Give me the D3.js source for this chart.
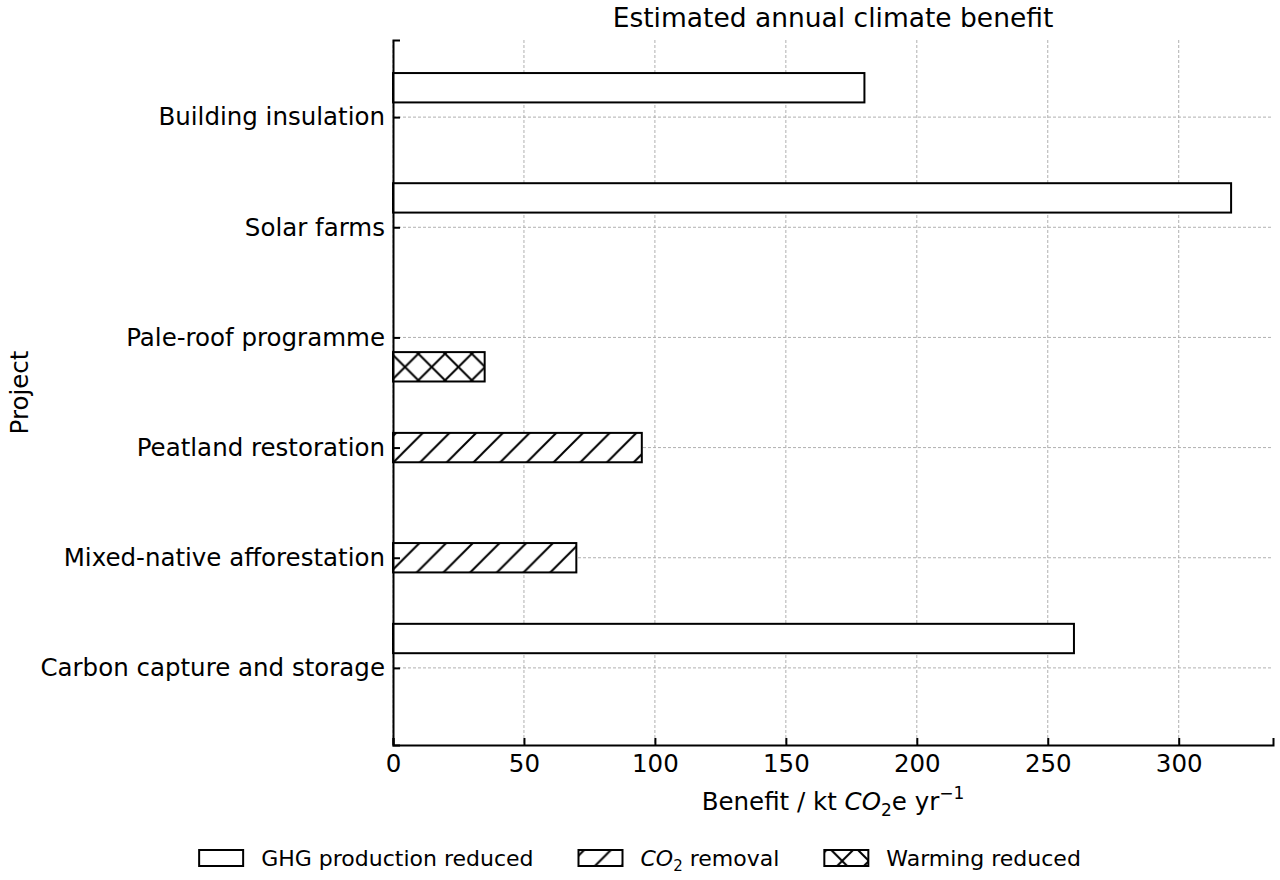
<!DOCTYPE html>
<html>
<head>
<meta charset="utf-8">
<script src="https://cdn.jsdelivr.net/npm/d3@7"></script>
<style>
  body { margin: 0; background: #fff; }
  text { font-family: "DejaVu Sans", sans-serif; fill: #000; }
</style>
</head>
<body>
<script>
const projects = ["Carbon capture and storage", "Mixed-native afforestation", "Peatland restoration",
    "Pale-roof programme", "Solar farms", "Building insulation"]
const ghgReduced = [260, 0, 0, 0, 320, 180]
const co2Removal = [0, 70, 95, 0, 0, 0]
const warmingReduced = [0, 0, 0, 35, 0, 0]
const xTicks = [0, 50, 100, 150, 200, 250, 300]
const seriesNames = ["GHG production reduced", "CO2 removal", "Warming reduced"]

const width = 1280, height = 880
const margin = { top: 40, right: 7, bottom: 135, left: 393 }

const svg = d3.select("body").append("svg")
    .attr("width", width)
    .attr("height", height)

// hatch patterns
const defs = svg.append("defs")
const hs = 26.7
const diag = defs.append("pattern")
    .attr("id", "hatch-diag")
    .attr("patternUnits", "userSpaceOnUse")
    .attr("x", 1.3).attr("y", 0)
    .attr("width", hs).attr("height", hs)
diag.append("rect").attr("width", hs).attr("height", hs).attr("fill", "#fff")
diag.append("path")
    .attr("d", `M0,${hs} L${hs},0 M${-hs / 2},${hs / 2} L${hs / 2},${-hs / 2} M${hs / 2},${hs * 1.5} L${hs * 1.5},${hs / 2}`)
    .attr("stroke", "#000").attr("stroke-width", 2)

const cross = defs.append("pattern")
    .attr("id", "hatch-cross")
    .attr("patternUnits", "userSpaceOnUse")
    .attr("x", 405 - hs / 2).attr("y", 367 - hs / 2)
    .attr("width", hs).attr("height", hs)
cross.append("rect").attr("width", hs).attr("height", hs).attr("fill", "#fff")
cross.append("path")
    .attr("d", `M0,0 L${hs},${hs} M0,${hs} L${hs},0`)
    .attr("stroke", "#000").attr("stroke-width", 2)

const fills = ["#fff", "url(#hatch-diag)", "url(#hatch-cross)"]

const x = d3.scaleLinear()
    .domain([0, 336])
    .range([margin.left, width - margin.right])

const y = d3.scaleLinear()
    .domain([-0.7, 5.7])
    .range([height - margin.bottom, margin.top])

const barH = 0.8 / 3

// grid
const grid = svg.append("g")
grid.selectAll(".gx").data(xTicks).enter().append("line")
    .attr("x1", d => x(d)).attr("x2", d => x(d))
    .attr("y1", y(5.7)).attr("y2", y(-0.7))
    .attr("stroke", "#b0b0b0").attr("stroke-width", 1).attr("stroke-dasharray", "3,2")
grid.selectAll(".gy").data(projects).enter().append("line")
    .attr("x1", x(0)).attr("x2", x(336))
    .attr("y1", (d, i) => y(i)).attr("y2", (d, i) => y(i))
    .attr("stroke", "#b0b0b0").attr("stroke-width", 1).attr("stroke-dasharray", "3,2")

// bars
const series = [ghgReduced, co2Removal, warmingReduced]
series.forEach((vals, s) => {
    const off = (1 - s) * barH
    const rows = vals.map((v, i) => ({ v, i })).filter(d => d.v > 0)
    svg.append("g").selectAll("rect")
        .data(rows)
        .enter().append("rect")
        .attr("x", x(0))
        .attr("y", d => y(d.i + off + barH / 2))
        .attr("width", d => x(d.v) - x(0))
        .attr("height", y(0) - y(barH))
        .attr("fill", fills[s])
        .attr("stroke", "#000")
        .attr("stroke-width", 2)
})

// axes
const xaxis = d3.axisBottom(x)
    .tickValues(xTicks)
    .tickSize(-7)
    .tickPadding(10)

const gx = svg.append("g")
    .attr("transform", `translate(0,${height - margin.bottom})`)
    .call(xaxis)
gx.select(".domain").attr("stroke-width", 2)
gx.selectAll(".tick line").attr("stroke-width", 2)
gx.selectAll("text").style("font-size", "24.5px")

const yaxis = d3.axisLeft(y)
    .tickValues(d3.range(projects.length))
    .tickFormat(i => projects[i])
    .tickSize(-7)
    .tickPadding(8)

const gy = svg.append("g")
    .attr("transform", `translate(${margin.left},0)`)
    .call(yaxis)
gy.select(".domain").attr("stroke-width", 2)
gy.selectAll(".tick line").attr("stroke-width", 2)
gy.selectAll("text").style("font-size", "24.5px")

// title
svg.append("text")
    .attr("x", (x(0) + x(336)) / 2)
    .attr("y", 27)
    .attr("text-anchor", "middle")
    .style("font-size", "26.5px")
    .text("Estimated annual climate benefit")

// x label
const xl = svg.append("text")
    .attr("x", (x(0) + x(336)) / 2)
    .attr("y", 810)
    .attr("text-anchor", "middle")
    .style("font-size", "24.5px")
xl.append("tspan").text("Benefit / kt ")
xl.append("tspan").attr("font-style", "italic").text("CO")
xl.append("tspan").attr("dy", 6).style("font-size", "17px").text("2")
xl.append("tspan").attr("dy", -6).text("e yr")
xl.append("tspan").attr("dy", -11).style("font-size", "17px").text("\u22121")

// y label
svg.append("text")
    .attr("transform", `translate(28,${(y(5.7) + y(-0.7)) / 2}) rotate(-90)`)
    .attr("text-anchor", "middle")
    .style("font-size", "24.5px")
    .text("Project")

// legend
const legend = svg.append("g")
let lx = 0
seriesNames.forEach((name, s) => {
    const g = legend.append("g").attr("transform", `translate(${lx},0)`)
    g.append("rect")
        .attr("x", 0).attr("y", 850)
        .attr("width", 44).attr("height", 16)
        .attr("fill", fills[s]).attr("stroke", "#000").attr("stroke-width", 2)
    const t = g.append("text")
        .attr("x", 62).attr("y", 866)
        .style("font-size", "22px")
    if (name.startsWith("CO2")) {
        t.append("tspan").attr("font-style", "italic").text("CO")
        t.append("tspan").attr("dy", 5).style("font-size", "15px").text("2")
        t.append("tspan").attr("dy", -5).text(" removal")
    } else {
        t.text(name)
    }
    lx += 62 + t.node().getComputedTextLength() + 45
})
const total = lx - 45
legend.attr("transform", `translate(${640 - total / 2},0)`)
</script>
</body>
</html>
